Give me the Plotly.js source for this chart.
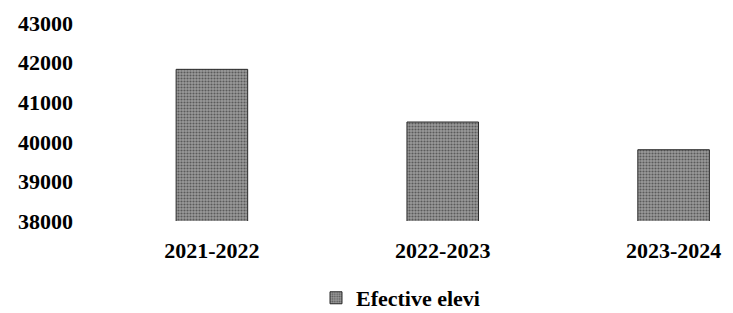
<!DOCTYPE html>
<html>
<head>
<meta charset="utf-8">
<script src="https://cdn.plot.ly/plotly-3.0.1.min.js"></script>
<style>html,body{margin:0;padding:0;background:#fff;}#chart{width:733px;height:313px;}</style>
</head>
<body>
<div id="chart"></div>
<script>
const categories = ["2021-2022", "2022-2023", "2023-2024"];
const values = [41830, 40500, 39800];
const seriesName = "Efective elevi";
const yTicks = [38000, 39000, 40000, 41000, 42000, 43000];

const fam = "Liberation Serif, Times New Roman, serif";
const tf = {family: fam, size: 22, color: "#000", weight: "bold"};

Plotly.newPlot("chart", [{
  type: "bar",
  x: categories,
  y: values,
  name: seriesName,
  showlegend: true,
  marker: {
    color: "#8e8e8e",
    line: {color: "#2a2a2a", width: 1},
    pattern: {shape: ".", fgcolor: "#5a5a5a", bgcolor: "#9a9a9a", size: 3, solidity: 0.4}
  }
}], {
  width: 733, height: 313,
  margin: {l: 78, r: 10, t: 23, b: 92, autoexpand: false},
  paper_bgcolor: "#fff", plot_bgcolor: "#fff",
  font: tf,
  bargap: 0.69,
  xaxis: {
    type: "category",
    range: [-0.58, 2.214],
    showgrid: false, zeroline: false, showline: false,
    ticks: "", ticklabelstandoff: 14,
    tickfont: tf
  },
  yaxis: {
    range: [38000, 43000],
    tickvals: yTicks,
    ticktext: yTicks.map(String),
    showgrid: false, zeroline: false, showline: false,
    ticks: "", ticklabelstandoff: 4,
    tickfont: tf
  },
  legend: {
    orientation: "h", x: 0.5, xanchor: "center",
    yref: "container", y: 0.048, yanchor: "middle",
    font: tf, itemwidth: 30
  }
}, {displayModeBar: false, staticPlot: true});
</script>
</body>
</html>
